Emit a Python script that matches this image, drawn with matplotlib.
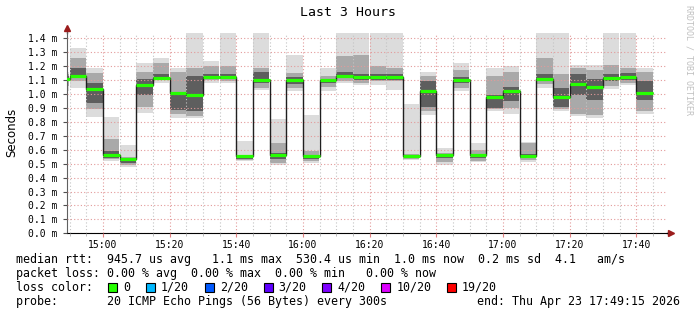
import matplotlib
matplotlib.use("Agg")
import matplotlib.pyplot as plt
from matplotlib.patches import Rectangle

# 5 minute steps, labelled by their end time
end_times = ["14:50", "14:55", "15:00", "15:05", "15:10", "15:15", "15:20", "15:25", "15:30",
             "15:35", "15:40", "15:45", "15:50", "15:55", "16:00", "16:05", "16:10", "16:15",
             "16:20", "16:25", "16:30", "16:35", "16:40", "16:45", "16:50", "16:55", "17:00",
             "17:05", "17:10", "17:15", "17:20", "17:25", "17:30", "17:35", "17:40", "17:45"]

# median rtt (ms)
median = [1.11, 1.13, 1.035, 0.56, 0.53, 1.067, 1.117, 1.007, 0.99, 1.124, 1.12, 0.553,
          1.103, 0.565, 1.098, 0.553, 1.098, 1.13, 1.12, 1.12, 1.12, 0.553, 1.02, 0.56,
          1.098, 0.565, 0.978, 1.02, 0.553, 1.105, 0.976, 1.074, 1.053, 1.115, 1.122, 1.007]

# smoke: full spread of the 20 pings
ping_min = [1.02, 1.04, 0.835, 0.52, 0.474, 0.864, 1.077, 0.828, 0.828, 1.079, 1.079, 0.517,
            1.03, 0.493, 1.022, 0.505, 1.02, 1.08, 1.067, 1.067, 1.03, 0.529, 0.847, 0.493,
            1.022, 0.51, 0.876, 0.856, 0.512, 1.043, 0.88, 0.84, 0.828, 1.038, 1.062, 0.856]
ping_max = [1.16, 1.33, 1.19, 0.835, 0.636, 1.22, 1.256, 1.187, 1.438, 1.234, 1.438, 0.66,
            1.438, 0.823, 1.278, 0.85, 1.19, 1.438, 1.438, 1.438, 1.438, 0.928, 1.158, 0.612,
            1.22, 0.648, 1.19, 1.2, 0.655, 1.438, 1.438, 1.206, 1.206, 1.438, 1.438, 1.19]

# inner bands of the smoke
mid_lo = [1.06, 1.09, 0.89, 0.53, 0.49, 0.91, 1.1, 0.86, 0.84, 1.1, 1.09, 0.525,
          1.04, 0.505, 1.04, 0.52, 1.05, 1.09, 1.08, 1.09, 1.09, 0.535, 0.88, 0.51,
          1.04, 0.52, 0.89, 0.9, 0.525, 1.07, 0.89, 0.86, 0.85, 1.06, 1.08, 0.88]
mid_hi = [1.14, 1.26, 1.15, 0.68, 0.55, 1.16, 1.22, 1.16, 1.187, 1.2, 1.2, 0.565,
          1.19, 0.65, 1.15, 0.59, 1.13, 1.27, 1.28, 1.2, 1.19, 0.57, 1.13, 0.58,
          1.17, 0.6, 1.127, 1.16, 0.645, 1.26, 1.14, 1.187, 1.17, 1.21, 1.19, 1.16]
dark_lo = [1.09, 1.12, 0.935, 0.54, 0.505, 0.995, 1.11, 0.888, 0.876, 1.11, 1.105, 0.535,
           1.08, 0.53, 1.07, 0.535, 1.08, 1.13, 1.1, 1.1, 1.1, 0.545, 0.91, 0.54,
           1.08, 0.54, 0.9, 0.95, 0.54, 1.09, 0.91, 0.995, 0.96, 1.09, 1.1, 0.96]
dark_hi = [1.13, 1.19, 1.08, 0.59, 0.54, 1.11, 1.14, 0.995, 1.127, 1.14, 1.14, 0.56,
           1.16, 0.58, 1.12, 0.565, 1.11, 1.16, 1.14, 1.14, 1.14, 0.56, 1.09, 0.57,
           1.12, 0.57, 0.995, 1.05, 0.57, 1.14, 1.04, 1.14, 1.11, 1.14, 1.15, 1.09]

tick_labels = ["15:00", "15:20", "15:40", "16:00", "16:20", "16:40", "17:00", "17:20", "17:40"]
y_ticks = [0.0, 0.1, 0.2, 0.3, 0.4, 0.5, 0.6, 0.7, 0.8, 0.9, 1.0, 1.1, 1.2, 1.3, 1.4]

loss_labels = ["0", "1/20", "2/20", "3/20", "4/20", "10/20", "19/20"]
loss_colors = ["#26ff00", "#00b8ff", "#0059ff", "#5e00ff", "#7e00ff", "#dd00ff", "#ff0000"]


def to_min(s):
    h, m = s.split(":")
    return int(h) * 60 + int(m)


W, H = 697, 315
MONO = "DejaVu Sans Mono"

ends = [to_min(t) for t in end_times]
starts = [e - 5 for e in ends]
edges = starts + [ends[-1]]
x0 = to_min("17:49") + 0.25 - 180
x1 = x0 + 180

fig = plt.figure(figsize=(W / 100, H / 100), dpi=100)
fig.patch.set_facecolor("white")
ax = fig.add_axes([67 / W, (H - 233.3) / H, 600 / W, 1.44 * 139.3 / H])

# smoke, lightest first
ax.bar(starts, [b - a for a, b in zip(ping_min, ping_max)], bottom=ping_min, width=5,
       align="edge", color="#dcdcdc", linewidth=0, zorder=1)
ax.bar(starts, [b - a for a, b in zip(mid_lo, mid_hi)], bottom=mid_lo, width=5,
       align="edge", color="#a9a9a9", linewidth=0, zorder=1)
ax.bar(starts, [b - a for a, b in zip(dark_lo, dark_hi)], bottom=dark_lo, width=5,
       align="edge", color="#5e5e5e", linewidth=0, zorder=1)

# median: black steps + green segments
ax.stairs(median, edges, baseline=None, color="#202020", lw=1.0, zorder=3)
ax.hlines(median, starts, ends, colors="#26ff00", lw=2.3, zorder=4)

ax.set_xlim(x0, x1)
ax.set_ylim(0, 1.44)

ax.set_xticks([to_min(t) for t in tick_labels])
ax.set_xticklabels(tick_labels, fontsize=7, family=MONO)
ax.set_xticks(range(to_min("14:50"), int(x1) + 1, 5), minor=True)
ax.set_yticks(y_ticks)
ax.set_yticklabels([f"{v:.1f} m" for v in y_ticks], fontsize=7, family=MONO)

ax.grid(which="major", color="#e39a9a", linestyle=(0, (1, 2)), lw=0.8)
ax.grid(which="minor", axis="x", color="#c4c4c4", linestyle=(0, (1, 2)), lw=0.8)
ax.set_axisbelow(False)

ax.tick_params(axis="x", which="major", length=3, color="#e08080", pad=1.5)
ax.tick_params(axis="x", which="minor", length=2, color="#b0b0b0")
ax.tick_params(axis="y", length=3, color="#505050", pad=4)

for s in ["top", "right"]:
    ax.spines[s].set_visible(False)
ax.spines["left"].set_color("#606060")
ax.spines["bottom"].set_color("black")

# axis arrows
ax.plot([x1, x1 + 1.2], [0, 0], color="black", lw=1, clip_on=False)
ax.plot(x1 + 1.2, 0, marker=">", color="#9b1c1c", ms=4, clip_on=False)
ax.plot([x0, x0], [1.44, 1.47], color="#606060", lw=1, clip_on=False)
ax.plot(x0, 1.474, marker="^", color="#9b1c1c", ms=4, clip_on=False)

fig.text(348 / W, 1 - 12 / H, "Last 3 Hours", ha="center", va="center",
         fontsize=9.5, family=MONO)
fig.text(12 / W, 1 - 132.5 / H, "Seconds", rotation=90, ha="center", va="center",
         fontsize=8.5, family="DejaVu Sans")
fig.text(688.5 / W, 1 - 5 / H, "RRDTOOL / TOBI OETIKER", rotation=-90, ha="center",
         va="top", fontsize=6, family=MONO, color="#c0c0c0")

# legend block
fs = 8.4
fig.text(16 / W, 1 - 259.3 / H,
         "median rtt:  945.7 us avg   1.1 ms max  530.4 us min  1.0 ms now  0.2 ms sd  4.1   am/s",
         va="center", fontsize=fs, family=MONO)
fig.text(16 / W, 1 - 273.3 / H,
         "packet loss: 0.00 % avg  0.00 % max  0.00 % min   0.00 % now",
         va="center", fontsize=fs, family=MONO)
fig.text(16 / W, 1 - 287.3 / H, "loss color:", va="center", fontsize=fs, family=MONO)
xs = 108
for lab, col in zip(loss_labels, loss_colors):
    fig.add_artist(Rectangle((xs / W, (H - 287.3 - 4.5) / H), 9 / W, 9 / H,
                             transform=fig.transFigure, facecolor=col,
                             edgecolor="black", lw=0.8))
    fig.text((xs + 15) / W, 1 - 287.3 / H, lab, va="center", fontsize=fs, family=MONO)
    xs = xs + 15 + len(lab) * 6.95 + 16
fig.text(16 / W, 1 - 301.3 / H, "probe:       20 ICMP Echo Pings (56 Bytes) every 300s",
         va="center", fontsize=fs, family=MONO)
fig.text(680 / W, 1 - 301.3 / H, "end: Thu Apr 23 17:49:15 2026", ha="right",
         va="center", fontsize=fs, family=MONO)

fig.savefig("out.png", dpi=100, facecolor="white")
